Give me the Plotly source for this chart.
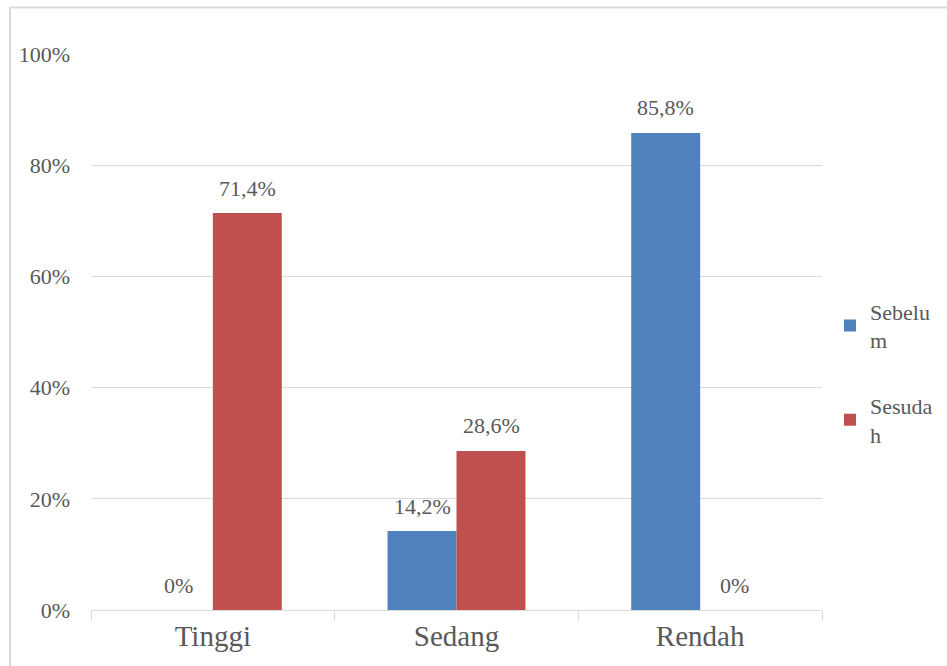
import plotly.graph_objects as go

categories = ["Tinggi", "Sedang", "Rendah"]
sebelum = [0.0, 0.142, 0.858]
sesudah = [0.714, 0.286, 0.0]
sebelum_labels = ["0%", "14,2%", "85,8%"]
sesudah_labels = ["71,4%", "28,6%", "0%"]
series_names = ["Sebelu<br>m", "Sesuda<br>h"]
y_ticks = [0, 0.2, 0.4, 0.6, 0.8, 1.0]
y_ticktext = ["0%", "20%", "40%", "60%", "80%", "100%"]

BLUE = "#4F81BD"
RED = "#C0504D"
TXT = "#595959"
GRID = "#D9D9D9"
FONT = "Liberation Serif"

fig = go.Figure()
fig.add_trace(go.Bar(x=categories, y=sebelum, name=series_names[0],
                     marker=dict(color=BLUE, line=dict(width=0)), legendgroup="a"))
fig.add_trace(go.Bar(x=categories, y=sesudah, name=series_names[1],
                     marker=dict(color=RED, line=dict(width=0)), legendgroup="b"))

annotations = []
for cat, v, t in zip(categories, sebelum, sebelum_labels):
    annotations.append(dict(x=cat, y=v, text=t, xref="x", yref="y", showarrow=False,
                            xshift=-34.5, yshift=25, yanchor="middle",
                            font=dict(size=22, color=TXT, family=FONT)))
for cat, v, t in zip(categories, sesudah, sesudah_labels):
    annotations.append(dict(x=cat, y=v, text=t, xref="x", yref="y", showarrow=False,
                            xshift=34.5, yshift=25, yanchor="middle",
                            font=dict(size=22, color=TXT, family=FONT)))

fig.update_layout(
    width=947, height=666,
    margin=dict(l=91, r=125, t=54, b=56, autoexpand=False),
    paper_bgcolor="white", plot_bgcolor="white",
    barmode="group", bargap=0.434, bargroupgap=0,
    font=dict(family=FONT, color=TXT),
    annotations=annotations,
    legend=dict(xref="container", yref="container",
                x=830 / 947, y=1 - 373 / 666, xanchor="left", yanchor="middle",
                font=dict(size=22, color=TXT, family=FONT),
                tracegroupgap=34, itemsizing="constant"),
    shapes=[dict(type="rect", xref="paper", yref="paper",
                 x0=(10 - 91) / 731, x1=1.3, y0=-0.3, y1=1 + (54 - 7.5) / 556,
                 line=dict(color=GRID, width=2), layer="below")],
)
fig.update_xaxes(showline=True, linecolor=GRID, linewidth=1,
                 ticks="outside", tickson="boundaries", ticklen=10, tickcolor=GRID,
                 tickfont=dict(size=29, color=TXT, family=FONT), showgrid=False)
fig.update_yaxes(range=[0, 1], tickvals=y_ticks, ticktext=y_ticktext,
                 showgrid=True, gridcolor=GRID, gridwidth=1, zeroline=False,
                 showline=False, ticklabelstandoff=20,
                 tickfont=dict(size=22, color=TXT, family=FONT))

fig.write_html("out.html")
